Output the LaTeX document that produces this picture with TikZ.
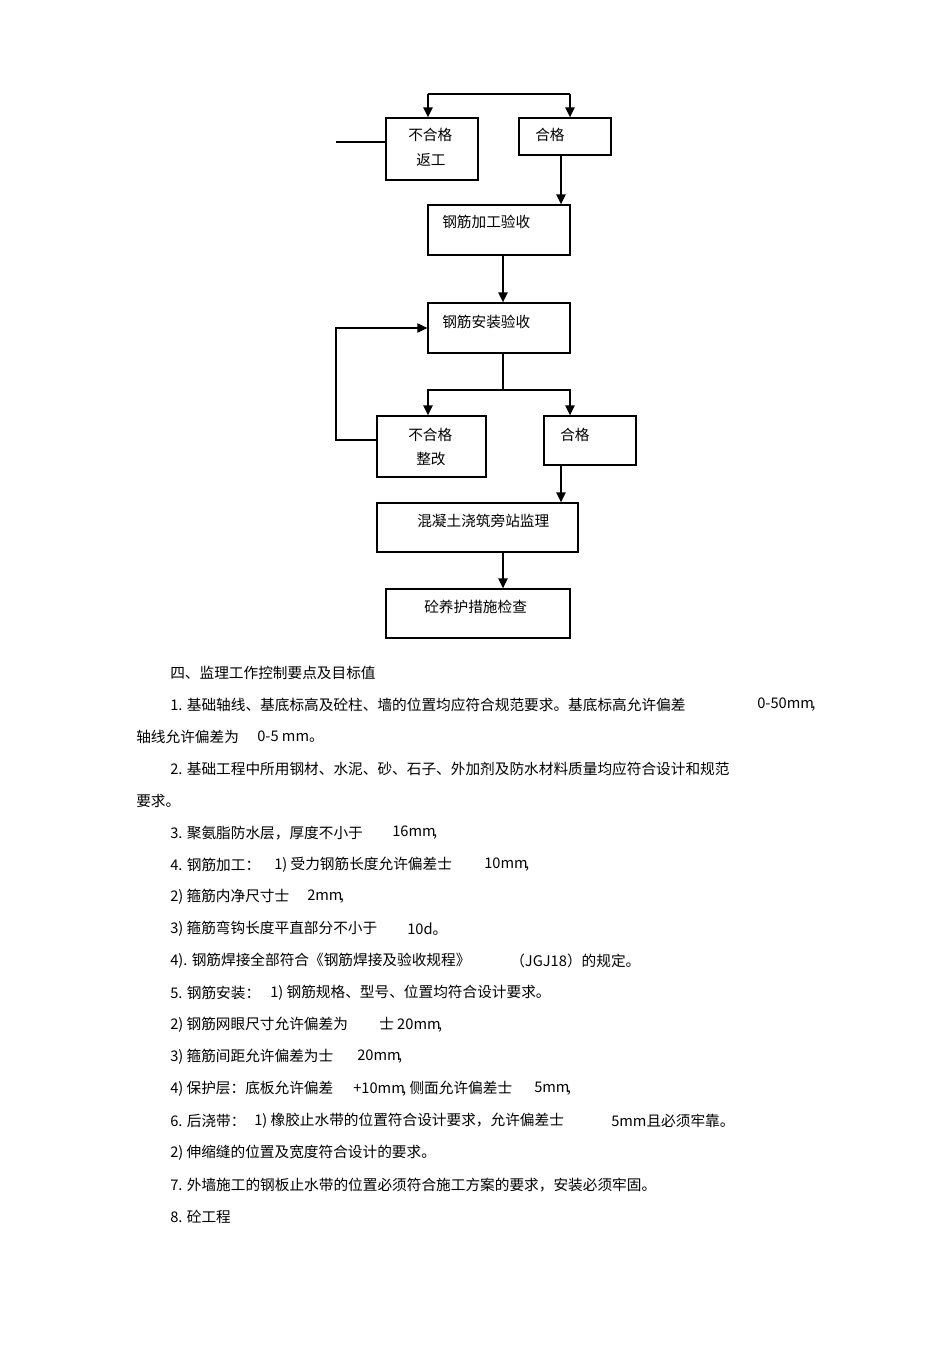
\documentclass[tikz,border=0pt]{standalone}
\usepackage{fontspec}
\setmainfont{Noto Sans CJK SC}
\usetikzlibrary{arrows.meta,fit}
\begin{document}
\begin{tikzpicture}[x=0.75pt,y=-0.75pt,
  box/.style={draw,line width=1pt,inner sep=0pt},
  txt/.style={anchor=west,inner sep=0pt,font=\fontsize{11}{13}\selectfont},
  ln/.style={line width=0.8pt},
  arr/.style={line width=1.2pt,-{Triangle[length=7.5pt,width=7pt]}},
  tarr/.style={line width=0.8pt,-{Triangle[length=7.5pt,width=7pt]}}]
\useasboundingbox (0,0) rectangle (950,1345);
% boxes
\node[box,fit={(386,118) (478,180)}] (A) {};
\node[box,fit={(519,118) (611,155)}] (B) {};
\node[box,fit={(428,205) (570,255)}] (C) {};
\node[box,fit={(428,303) (570,353)}] (D) {};
\node[box,fit={(377,416) (486,477)}] (E) {};
\node[box,fit={(544,416) (636,465)}] (F) {};
\node[box,fit={(377,503) (578,552)}] (G) {};
\node[box,fit={(386,589) (570,638)}] (H) {};
% box texts
\node[txt] (tA1) at (408,135) {不合格};
\node[txt] (tA2) at (416,160) {返工};
\node[txt] (tB) at (535,135) {合格};
\node[txt] (tC) at (442,222) {钢筋加工验收};
\node[txt] (tD) at (442,322) {钢筋安装验收};
\node[txt] (tE1) at (408,435) {不合格};
\node[txt] (tE2) at (416,459) {整改};
\node[txt] (tF) at (560,435) {合格};
\node[txt] (tG) at (417,521) {混凝土浇筑旁站监理};
\node[txt] (tH) at (424,607) {砼养护措施检查};
% connectors
\coordinate (j1) at (428,94);
\coordinate (j2) at (570,94);
\draw[line width=1.2pt] (j1) -- (j2);
\draw[arr] (j1) -- (A.north -| j1);
\draw[arr] (j2) -- (B.north -| j2);
\coordinate (s) at (336,142);
\draw[ln] (s) -- (A.west |- s);
\coordinate (x1) at (561,0);
\coordinate (m) at (503,0);
\draw[arr] (B.south -| x1) -- (C.north -| x1);
\draw[arr] (C.south -| m) -- (D.north -| m);
\coordinate (j3) at (503,390);
\coordinate (j4) at (428,390);
\coordinate (j5) at (570,390);
\draw[ln] (D.south -| m) -- (j3);
\draw[arr] (j3) -| (E.north -| j4);
\draw[arr] (j3) -| (F.north -| j5);
\coordinate (fb) at (336,440);
\coordinate (fd) at (0,328);
\draw[tarr] (E.west |- fb) -- (fb) |- (D.west |- fd);
\draw[arr] (F.south -| x1) -- (G.north -| x1);
\draw[arr] (G.south -| m) -- (H.north -| m);
% body text
\node[txt] (l0) at (170,673) {四、监理工作控制要点及目标值};
\node[txt] (l1a) at (170,705) {1. 基础轴线、基底标高及砼柱、墙的位置均应符合规范要求。基底标高允许偏差};
\node[txt] (l1b) at (757,705) {0-50mm\hspace{-2pt},};
\node[txt] (l2a) at (136,737) {轴线允许偏差为};
\node[txt] (l2b) at (257,737) {0-5 mm。};
\node[txt] (l3) at (170,769) {2. 基础工程中所用钢材、水泥、砂、石子、外加剂及防水材料质量均应符合设计和规范};
\node[txt] (l4) at (136,801) {要求。};
\node[txt] (l5a) at (170,833) {3. 聚氨脂防水层，厚度不小于};
\node[txt] (l5b) at (392,833) {16mm\hspace{-2pt},};
\node[txt] (l6a) at (170,865) {4. 钢筋加工：};
\node[txt] (l6b) at (274,865) {1) 受力钢筋长度允许偏差士};
\node[txt] (l6c) at (484,865) {10mm\hspace{-2pt},};
\node[txt] (l7a) at (170,897) {2) 箍筋内净尺寸士};
\node[txt] (l7b) at (307,897) {2mm\hspace{-2pt},};
\node[txt] (l8a) at (170,929) {3) 箍筋弯钩长度平直部分不小于};
\node[txt] (l8b) at (407,929) {10d。};
\node[txt] (l9a) at (170,961) {4). 钢筋焊接全部符合《钢筋焊接及验收规程》};
\node[txt] (l9b) at (510,961) {（JGJ18）的规定。};
\node[txt] (l10a) at (170,993) {5. 钢筋安装：};
\node[txt] (l10b) at (270,993) {1) 钢筋规格、型号、位置均符合设计要求。};
\node[txt] (l11a) at (170,1025) {2) 钢筋网眼尺寸允许偏差为};
\node[txt] (l11b) at (379,1025) {士 20mm\hspace{-2pt},};
\node[txt] (l12a) at (170,1057) {3) 箍筋间距允许偏差为士};
\node[txt] (l12b) at (357,1057) {20mm\hspace{-2pt},};
\node[txt] (l13a) at (170,1089) {4) 保护层：底板允许偏差};
\node[txt] (l13b) at (353,1089) {+10mm\hspace{-2pt}, 侧面允许偏差士};
\node[txt] (l13c) at (534,1089) {5mm\hspace{-2pt},};
\node[txt] (l14a) at (170,1121) {6. 后浇带：};
\node[txt] (l14b) at (254,1121) {1) 橡胶止水带的位置符合设计要求，允许偏差士};
\node[txt] (l14c) at (611,1121) {5mm且必须牢靠。};
\node[txt] (l15) at (170,1153) {2) 伸缩缝的位置及宽度符合设计的要求。};
\node[txt] (l16) at (170,1185) {7. 外墙施工的钢板止水带的位置必须符合施工方案的要求，安装必须牢固。};
\node[txt] (l17) at (170,1217) {8. 砼工程};
\end{tikzpicture}
\end{document}
